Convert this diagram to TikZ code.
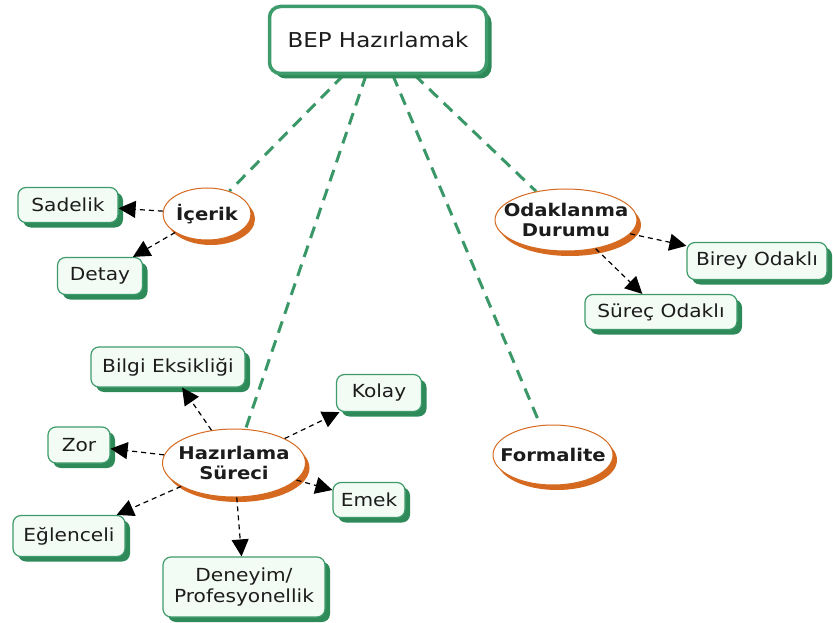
\documentclass[tikz,border=0pt]{standalone}
\usepackage{fontspec}
\setmainfont{DejaVu Sans}[FakeStretch=1.12]
\usetikzlibrary{arrows.meta,shapes.geometric,shadows,backgrounds}

\definecolor{boxline}{HTML}{3E9B6B}
\definecolor{boxshade}{HTML}{2E8A58}
\definecolor{boxfill}{HTML}{F3FBF5}
\definecolor{ovline}{HTML}{D4691F}
\definecolor{linkgreen}{HTML}{3A9868}
\definecolor{ink}{HTML}{1C1C1C}

\tikzset{
  rootbox/.style={rectangle, rounded corners=11pt, draw=boxline, line width=3.5pt,
    fill=white, text=ink, font=\fontsize{20.5}{24}\selectfont,
    drop shadow={shadow xshift=5pt, shadow yshift=-5pt, fill=boxshade, opacity=1}},
  leaf/.style={rectangle, rounded corners=8pt, draw=boxline, line width=1.2pt,
    fill=boxfill, text=ink, align=center, inner sep=0pt,
    font=\fontsize{18}{20.5}\selectfont,
    drop shadow={shadow xshift=5pt, shadow yshift=-5pt, fill=boxshade, opacity=1}},
  topic/.style={ellipse, draw=ovline, line width=1pt, fill=white, inner sep=0pt,
    drop shadow={shadow xshift=4pt, shadow yshift=-5pt, fill=ovline, opacity=1}},
  topictext/.style={text=ink, align=center, inner sep=0pt,
    font=\bfseries\fontsize{17.5}{19.5}\selectfont},
  branch/.style={draw=linkgreen, line width=3pt, dash pattern=on 12pt off 8pt},
  arr/.style={draw=black, line width=1.2pt, dash pattern=on 5pt off 4pt,
    -{Triangle[length=17pt,width=17pt]}},
}

\begin{document}
\begin{tikzpicture}[x=1pt,y=-1pt]
\useasboundingbox (0,0) rectangle (833,623);

% central concept
\node[rootbox, minimum width=217pt, minimum height=67pt] (root) at (378,40) {BEP Hazırlamak};

% main topics
\node[topic, minimum width=88pt, minimum height=52pt,
  label={[topictext]center:İçerik}] (icerik) at (207,214) {};
\node[topic, minimum width=142pt, minimum height=62pt,
  label={[topictext]center:Odaklanma\\Durumu}] (odak) at (566,220) {};
\node[topic, minimum width=143pt, minimum height=68pt,
  label={[topictext]center:Hazırlama\\Süreci}] (hazir) at (234,463) {};
\node[topic, minimum width=120pt, minimum height=60pt,
  label={[topictext]center:Formalite}] (formal) at (553,455) {};

% leaves
\node[leaf, minimum width=100pt, minimum height=35pt] (sadelik) at (68,205) {Sadelik};
\node[leaf, minimum width=85pt, minimum height=37pt] (detay) at (100,276) {Detay};
\node[leaf, minimum width=140pt, minimum height=37pt] (birey) at (757,261) {Birey Odaklı};
\node[leaf, minimum width=152pt, minimum height=35pt] (surec) at (661,312) {Süreç Odaklı};
\node[leaf, minimum width=154pt, minimum height=40pt] (bilgi) at (168,367) {Bilgi Eksikliği};
\node[leaf, minimum width=85pt, minimum height=37pt] (kolay) at (379,393) {Kolay};
\node[leaf, minimum width=62pt, minimum height=36pt] (zor) at (79,445) {Zor};
\node[leaf, minimum width=72pt, minimum height=35pt] (emek) at (369,500) {Emek};
\node[leaf, minimum width=112pt, minimum height=41pt] (eglen) at (69,536) {Eğlenceli};
\node[leaf, minimum width=162pt, minimum height=60pt] (deneyim) at (244,587) {Deneyim/\\Profesyonellik};

% green branches from the central concept
\begin{scope}[on background layer]
  \draw[branch] (root) -- (icerik);
  \draw[branch] (root) -- (hazir);
  \draw[branch] (root) -- (formal);
  \draw[branch] (root) -- (odak);
\end{scope}

% dashed arrows to sub-items
\draw[arr] (icerik) -- (sadelik);
\draw[arr] (icerik) -- (detay);
\draw[arr] (odak) -- (birey);
\draw[arr] (odak) -- (surec);
\draw[arr] (hazir) -- (bilgi);
\draw[arr] (hazir) -- (kolay);
\draw[arr] (hazir) -- (zor);
\draw[arr] (hazir) -- (emek);
\draw[arr] (hazir) -- (eglen);
\draw[arr] (hazir) -- (deneyim);
\end{tikzpicture}
\end{document}
